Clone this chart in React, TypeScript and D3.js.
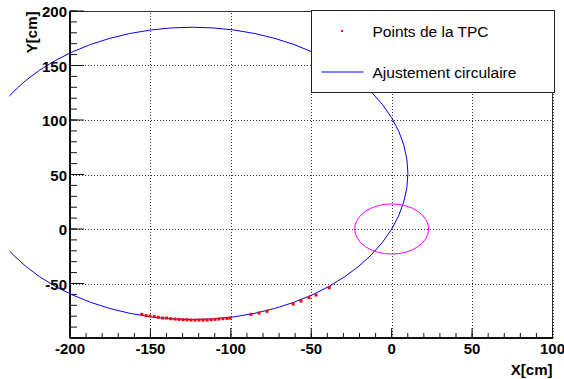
import React from "react";
import * as d3 from "d3";

const W = 564;
const H = 379;

// Axis ranges and tick labels
const xDomain: [number, number] = [-200, 100];
const yDomain: [number, number] = [-100, 200];
const xMajorTicks = [-200, -150, -100, -50, 0, 50, 100];
const xLabels = ["-200", "-150", "-100", "-50", "0", "50", "100"];
const yMajorTicks = [-100, -50, 0, 50, 100, 150, 200];
const yLabels = ["", "-50", "0", "50", "100", "150", "200"];
const xGrid = [-150, -100, -50, 0, 50, 100];
const yGrid = [-50, 0, 50, 100, 150];

// TPC points
const pointsX = [
  -155.4, -152.7, -150.3, -147.6, -145.1, -142.4, -139.9, -137.4, -134.7, -132.2,
  -129.7, -127.3, -124.8, -122.3, -119.8, -117.3, -114.8, -112.3, -109.8, -107.4,
  -104.9, -102.4, -100.5, -87.5, -82.5, -77.5, -61.3, -56.4, -51.4, -47.0, -38.8,
];
const pointsY = [
  -78.3, -79.5, -79.8, -80.4, -81.0, -81.7, -81.7, -82.3, -82.6, -82.9,
  -83.2, -83.2, -83.5, -83.5, -83.5, -83.5, -83.5, -83.2, -82.9, -82.6,
  -82.3, -82.0, -81.7, -78.3, -77.1, -75.5, -68.8, -66.1, -63.0, -60.6, -53.8,
];

// Circular fit parameters
const fitCenter = [-124, 51];
const fitRadius = 134.1;
// Inner circle at the origin
const innerCenter = [0, 0];
const innerRadius = 23;

const legendLabels = ["Points de la TPC", "Ajustement circulaire"];

export default function App() {
  const x = d3.scaleLinear().domain(xDomain).range([70, 552.5]);
  const y = d3.scaleLinear().domain(yDomain).range([338, 11]);
  const x0 = x.range()[0];
  const x1 = x.range()[1];
  const y0 = y.range()[0];
  const y1 = y.range()[1];

  const xMinor = d3.range(xDomain[0], xDomain[1] + 0.01, 10);
  const yMinor = d3.range(yDomain[0], yDomain[1] + 0.01, 10);

  const kx = (x1 - x0) / (xDomain[1] - xDomain[0]);
  const ky = (y0 - y1) / (yDomain[1] - yDomain[0]);

  const font = "'Liberation Sans', Arial, Helvetica, sans-serif";

  return (
    <svg
      width={W}
      height={H}
      style={{ position: "absolute", left: 0, top: 0, background: "#fff" }}
      xmlns="http://www.w3.org/2000/svg"
    >
      <defs>
        <clipPath id="fitclip">
          <rect x={9.5} y={0} width={W} height={H} />
        </clipPath>
      </defs>
      <rect x={0} y={0} width={W} height={H} fill="#fff" />

      {/* grid */}
      <g stroke="#333" strokeWidth={1} strokeDasharray="1,2">
        {xGrid.map((v) => (
          <line key={"gx" + v} x1={Math.round(x(v)) + 0.5} x2={Math.round(x(v)) + 0.5} y1={y0} y2={y1} />
        ))}
        {yGrid.map((v) => (
          <line key={"gy" + v} x1={x0} x2={x1} y1={Math.round(y(v)) + 0.5} y2={Math.round(y(v)) + 0.5} />
        ))}
      </g>

      {/* frame */}
      <rect x={x0} y={y1 + 0.5} width={x1 - x0} height={y0 - y1} fill="none" stroke="#333" strokeWidth={1} />

      {/* ticks */}
      <g stroke="#111" strokeWidth={1}>
        {xMinor.map((v) => (
          <line key={"xm" + v} x1={x(v)} x2={x(v)} y1={y0} y2={y0 - 5} />
        ))}
        {xMajorTicks.map((v) => (
          <line key={"xM" + v} x1={x(v)} x2={x(v)} y1={y0} y2={y0 - 10} />
        ))}
        {yMinor.map((v) => (
          <line key={"ym" + v} x1={x0} x2={x0 + 7} y1={y(v)} y2={y(v)} />
        ))}
        {yMajorTicks.map((v) => (
          <line key={"yM" + v} x1={x0} x2={x0 + 14} y1={y(v)} y2={y(v)} />
        ))}
      </g>
      {/* axis lines */}
      <line x1={x0} x2={x1} y1={y0} y2={y0} stroke="#111" strokeWidth={2} />
      <line x1={x0} x2={x0} y1={y0} y2={y1} stroke="#111" strokeWidth={2} />

      {/* fit circle */}
      <ellipse
        cx={x(fitCenter[0])}
        cy={y(fitCenter[1])}
        rx={fitRadius * kx}
        ry={fitRadius * ky}
        fill="none"
        stroke="#0000ff"
        strokeWidth={1}
        clipPath="url(#fitclip)"
      />
      {/* inner circle */}
      <ellipse
        cx={x(innerCenter[0])}
        cy={y(innerCenter[1])}
        rx={innerRadius * kx}
        ry={innerRadius * ky}
        fill="none"
        stroke="#ff00ff"
        strokeWidth={1}
      />

      {/* points */}
      <g fill="#ff0000">
        {pointsX.map((px, i) => (
          <rect key={"p" + i} x={x(px) - 1.5} y={y(pointsY[i]) - 1.5} width={3} height={3} />
        ))}
      </g>

      {/* tick labels */}
      <g fontFamily={font} fontWeight="bold" fontSize={15} fill="#000">
        {xMajorTicks.map((v, i) => (
          <text key={"xl" + v} x={x(v)} y={354} textAnchor="middle">
            {xLabels[i]}
          </text>
        ))}
        {yMajorTicks.map((v, i) =>
          yLabels[i] ? (
            <text key={"yl" + v} x={67} y={y(v) + 6} textAnchor="end">
              {yLabels[i]}
            </text>
          ) : null
        )}
      </g>

      {/* axis titles */}
      <text x={x1} y={375} textAnchor="end" fontFamily={font} fontWeight="bold" fontSize={15}>
        X[cm]
      </text>
      <text
        transform={`translate(36.5, ${y1 + 0.5}) rotate(-90)`}
        textAnchor="end"
        fontFamily={font}
        fontWeight="bold"
        fontSize={15}
      >
        Y[cm]
      </text>

      {/* legend */}
      <rect x={311.5} y={10.5} width={243} height={82} fill="#fff" stroke="#222" strokeWidth={1} />
      <rect x={341} y={30} width={2} height={2} fill="#ff0000" />
      <line x1={321.5} x2={363.5} y1={72} y2={72} stroke="#0000ff" strokeWidth={1} />
      <g fontFamily={font} fontSize={15.5} fill="#000">
        <text x={372.5} y={37}>{legendLabels[0]}</text>
        <text x={372.5} y={77.5}>{legendLabels[1]}</text>
      </g>
    </svg>
  );
}
